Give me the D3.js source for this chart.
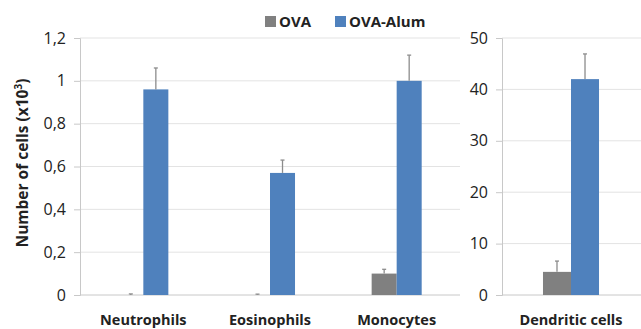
<!DOCTYPE html>
<html>
<head>
<meta charset="utf-8">
<script src="https://cdn.jsdelivr.net/npm/d3@7"></script>
<style>
  body { margin: 0; background: #fff; }
  svg { display: block; }
  text { font-family: "Open Sans", "Liberation Sans", sans-serif; fill: #222; }
</style>
</head>
<body>
<svg width="641" height="329"></svg>
<script>
// values
var categoriesLeft = ["Neutrophils", "Eosinophils", "Monocytes"];
var ovaLeft = [0, 0, 0.10];
var ovaLeftErr = [0.005, 0.004, 0.02];
var alumLeft = [0.96, 0.57, 1.00];
var alumLeftErr = [0.10, 0.06, 0.12];
var ticksLeft = [0, 0.2, 0.4, 0.6, 0.8, 1, 1.2];

var categoriesRight = ["Dendritic cells"];
var ovaRight = [4.5];
var ovaRightErr = [2.1];
var alumRight = [42];
var alumRightErr = [4.9];
var ticksRight = [0, 10, 20, 30, 40, 50];

var seriesNames = ["OVA", "OVA-Alum"];
var colors = ["#808080", "#4f81bd"];

var svg = d3.select("svg");
var yTop = 38, yBase = 295;

function panel(cats, ova, ovaErr, alum, alumErr, domainMax, ticks, x0, x1, pad, gridEnd, fmt) {
  var y = d3.scaleLinear().domain([0, domainMax]).range([yBase, yTop]);
  var x = d3.scaleBand().domain(cats).range([x0, x1]).paddingInner(pad).paddingOuter(pad / 2);
  var xs = d3.scaleBand().domain(seriesNames).range([0, x.bandwidth()]);

  // gridlines
  svg.append("g")
    .selectAll("line").data(ticks.slice(1)).enter().append("line")
    .attr("x1", x0).attr("x2", gridEnd)
    .attr("y1", d => y(d)).attr("y2", d => y(d))
    .style("stroke", "#e3e3e3").style("stroke-width", 1);

  // axis
  var ax = svg.append("g")
    .attr("transform", "translate(" + x0 + ",0)")
    .call(d3.axisLeft(y).tickValues(ticks).tickSize(6).tickPadding(8).tickFormat(fmt));
  ax.select(".domain").style("stroke", "#c8c8c8");
  ax.selectAll(".tick line").style("stroke", "#c8c8c8");
  ax.selectAll(".tick text")
    .style("font-size", "16px").style("font-family", "\"Open Sans\", sans-serif").style("fill", "#222");

  // baseline
  svg.append("line")
    .attr("x1", x0).attr("x2", gridEnd)
    .attr("y1", y(0)).attr("y2", y(0))
    .style("stroke", "#c8c8c8");

  var rows = cats.map((c, i) => [
    { cat: c, s: "OVA", v: ova[i], e: ovaErr[i] },
    { cat: c, s: "OVA-Alum", v: alum[i], e: alumErr[i] }
  ]).flat();

  svg.append("g").selectAll("rect").data(rows).enter().append("rect")
    .attr("x", d => x(d.cat) + xs(d.s))
    .attr("width", xs.bandwidth())
    .attr("y", d => y(d.v))
    .attr("height", d => y(0) - y(d.v))
    .style("fill", d => colors[seriesNames.indexOf(d.s)]);

  var eb = svg.append("g").selectAll("g").data(rows).enter().append("g")
    .attr("transform", d => "translate(" + (x(d.cat) + xs(d.s) + xs.bandwidth() / 2) + ",0)");
  eb.append("line")
    .attr("y1", d => y(d.v)).attr("y2", d => y(d.v + d.e))
    .style("stroke", "#8c8c8c").style("stroke-width", 1.3);
  eb.append("line")
    .attr("x1", -2).attr("x2", 2)
    .attr("y1", d => y(d.v + d.e)).attr("y2", d => y(d.v + d.e))
    .style("stroke", "#8c8c8c").style("stroke-width", 1.3);

  svg.append("g").selectAll("text").data(cats).enter().append("text")
    .attr("x", d => x(d) + x.bandwidth() / 2)
    .attr("y", 325)
    .attr("text-anchor", "middle")
    .style("font-size", "14.5px").style("font-weight", "bold")
    .text(d => d);
}

var commaFmt = d => String(+d.toFixed(1)).replace(".", ",");
panel(categoriesLeft, ovaLeft, ovaLeftErr, alumLeft, alumLeftErr, 1.2, ticksLeft, 80, 460, 0.605, 460, commaFmt);
panel(categoriesRight, ovaRight, ovaRightErr, alumRight, alumRightErr, 50, ticksRight, 502, 640, 0.594, 641, d => d);

// y title
var yt = svg.append("text")
  .attr("transform", "translate(28,163) rotate(-90)")
  .attr("text-anchor", "middle")
  .style("font-size", "15.5px").style("font-weight", "bold");
yt.append("tspan").text("Number of cells (x10");
yt.append("tspan").attr("dy", -6).style("font-size", "10px").text("3");
yt.append("tspan").attr("dy", 6).text(")");

// legend
var leg = svg.append("g").selectAll("g").data(seriesNames).enter().append("g")
  .attr("transform", (d, i) => "translate(" + [265, 335][i] + ",16)");
leg.append("rect").attr("width", 11).attr("height", 11).style("fill", (d, i) => colors[i]);
leg.append("text").attr("x", 14).attr("y", 11)
  .style("font-size", "15px").style("font-weight", "bold")
  .text(d => d);
</script>
</body>
</html>
